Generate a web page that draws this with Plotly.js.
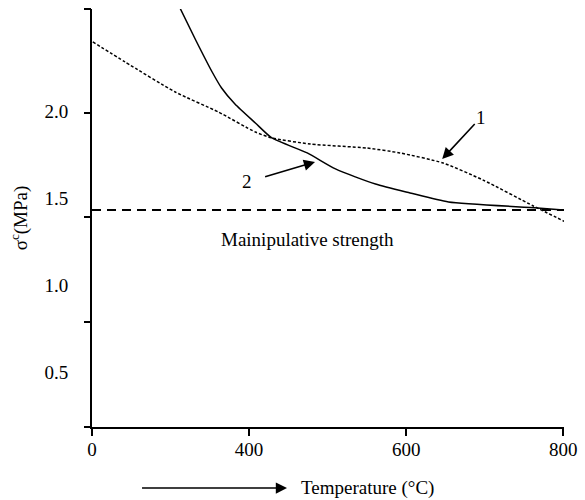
<!DOCTYPE html>
<html>
<head>
<meta charset="utf-8">
<script src="https://cdn.plot.ly/plotly-3.0.1.min.js"></script>
<style>html,body{margin:0;padding:0;background:#fff;}#chart{width:585px;height:500px;}</style>
</head>
<body>
<div id="chart"></div>
<script>
// Curve 1 (dotted)
var temp1 = [201, 242, 306, 361, 408, 429, 478, 550, 592, 647, 698, 762, 803];
var sigma1 = [2.397, 2.282, 2.109, 1.994, 1.879, 1.845, 1.810, 1.787, 1.759, 1.701, 1.603, 1.454, 1.362];
// Curve 2 (solid)
var temp2 = [312, 332, 353, 365, 382, 408, 429, 474, 510, 561, 605, 654, 767, 800];
var sigma2 = [2.592, 2.408, 2.224, 2.132, 2.040, 1.931, 1.845, 1.759, 1.667, 1.580, 1.529, 1.477, 1.443, 1.431];
// Manipulative strength level
var manipTemp = [200, 801];
var manipSigma = [1.431, 1.431];
// Tick labels
var xTickVals = [200, 400, 600, 800];
var xTickText = ['0', '400', '600', '800'];
var yLabelVals = [0.5, 1.0, 1.5, 2.0];
var yLabelText = ['0.5', '1.0', '1.5', '2.0'];
var yMarkVals = [0.184, 0.787, 1.391, 1.989, 2.586];

var FONT = {family: 'Liberation Serif', size: 19, color: '#000000'};

var traces = [
  {x: temp1, y: sigma1, mode: 'lines', line: {color: '#000', width: 1.5, dash: '3px,2px', shape: 'spline', smoothing: 0.6}, hoverinfo: 'skip'},
  {x: temp2, y: sigma2, mode: 'lines', line: {color: '#000', width: 1.5, shape: 'spline', smoothing: 0.6}, hoverinfo: 'skip'},
  {x: manipTemp, y: manipSigma, mode: 'lines', line: {color: '#000', width: 2, dash: '9px,6px'}, hoverinfo: 'skip'},
  {x: [200], y: [1], yaxis: 'y2', mode: 'markers', marker: {opacity: 0}, hoverinfo: 'skip'}
];

var layout = {
  width: 585, height: 500,
  margin: {l: 92, r: 21, t: 9, b: 73},
  paper_bgcolor: '#fff', plot_bgcolor: '#fff',
  showlegend: false,
  font: FONT,
  xaxis: {
    range: [200, 801], tickvals: xTickVals, ticktext: xTickText,
    ticks: 'outside', ticklen: 7, tickwidth: 2, tickcolor: '#000', ticklabelstandoff: -3,
    showline: true, linewidth: 2, linecolor: '#000',
    showgrid: false, zeroline: false, tickfont: FONT
  },
  yaxis: {
    range: [0.184, 2.586], tickvals: yLabelVals, ticktext: yLabelText,
    ticks: 'outside', ticklen: 18, tickwidth: 1, tickcolor: 'rgba(0,0,0,0)',
    showline: true, linewidth: 2, linecolor: '#000',
    showgrid: false, zeroline: false, tickfont: FONT,
    title: {text: 'σ<sup>c</sup>(MPa)', font: FONT, standoff: 12}
  },
  yaxis2: {
    overlaying: 'y', side: 'left', range: [0.184, 2.586], tickvals: yMarkVals,
    ticks: 'outside', ticklen: 7, tickwidth: 2, tickcolor: '#000',
    showticklabels: false, showline: false, showgrid: false, zeroline: false
  },
  annotations: [
    {x: 645.9, y: 1.724, ax: 695.6, ay: 1.965, axref: 'x', ayref: 'y', xref: 'x', yref: 'y', text: '1', font: FONT,
     showarrow: true, arrowhead: 2, arrowsize: 1.4, arrowwidth: 1.6, arrowcolor: '#000', startstandoff: 0},
    {x: 484, y: 1.707, ax: 397.5, ay: 1.592, axref: 'x', ayref: 'y', xref: 'x', yref: 'y', text: '2', font: FONT,
     showarrow: true, arrowhead: 2, arrowsize: 1.4, arrowwidth: 1.6, arrowcolor: '#000', startstandoff: 12},
    {x: 475, y: 1.259, xref: 'x', yref: 'y', text: 'Mainipulative strength', showarrow: false, font: FONT},
    {x: 0.106, y: -0.146, xref: 'paper', yref: 'paper', ax: 225, ay: 0, text: 'Temperature (°C)', font: FONT,
     showarrow: true, arrowside: 'start', startarrowhead: 2, startarrowsize: 1.4, arrowwidth: 1.6, arrowcolor: '#000', startstandoff: 12}
  ]
};

Plotly.newPlot('chart', traces, layout, {displayModeBar: false, staticPlot: true});
</script>
</body>
</html>
